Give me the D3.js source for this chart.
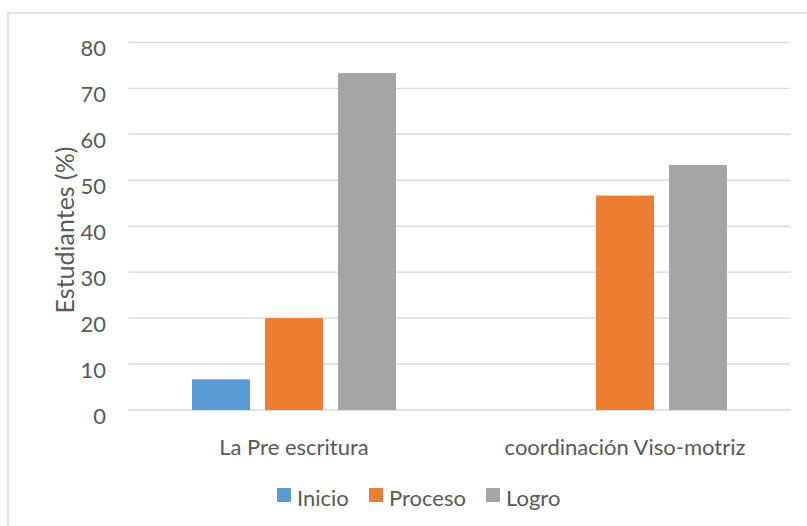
<!DOCTYPE html>
<html><head><meta charset="utf-8">
<script src="https://cdn.jsdelivr.net/npm/d3@7"></script>
<style>body{margin:0;background:#fff}svg{display:block;font-family:Lato,"Open Sans",sans-serif}</style>
</head><body>
<svg id="c" width="807" height="526"></svg>
<script>
const categories = ["La Pre escritura", "coordinación Viso-motriz"];
const seriesNames = ["Inicio", "Proceso", "Logro"];
const inicio = [6.67, 0];
const proceso = [20, 46.67];
const logro = [73.33, 53.33];
const yTicks = [0, 10, 20, 30, 40, 50, 60, 70, 80];
const colors = ["#5b9bd5", "#ed7d31", "#a5a5a5"];
const textColor = "#595959";

const svg = d3.select("#c");
svg.append("rect").attr("x", 8).attr("y", 13).attr("width", 820).attr("height", 540)
  .attr("fill", "none").attr("stroke", "#d9d9d9").attr("stroke-width", 1.5);

const m = {l: 128.5, r: 790.5, t: 42.4, b: 410};
const x = d3.scaleBand().domain(categories).range([m.l, m.r]).paddingInner(0).paddingOuter(0);
const y = d3.scaleLinear().domain([0, 80]).range([m.b, m.t]);
const xs = d3.scaleBand().domain(seriesNames).range([0, x.bandwidth()]).paddingInner(0.205).paddingOuter(0.87);

svg.append("g").selectAll("line").data(yTicks).join("line")
  .attr("x1", m.l).attr("x2", m.r).attr("y1", d => y(d)).attr("y2", d => y(d))
  .attr("stroke", "#d9d9d9").attr("stroke-width", 1.4);

const yAxis = d3.axisLeft(y).tickValues(yTicks).tickSize(0).tickPadding(0);
const ga = svg.append("g").attr("transform", `translate(106,6)`).call(yAxis);
ga.select(".domain").remove();
ga.selectAll("text").attr("fill", textColor).style("font-size", "22px").style("font-family", "Lato,sans-serif");

const series = [inicio, proceso, logro];
const data = [];
categories.forEach((c, i) => seriesNames.forEach((s, j) => data.push({c, s, v: series[j][i], col: colors[j]})));
svg.append("g").selectAll("rect").data(data.filter(d => d.v > 0)).join("rect")
  .attr("x", d => x(d.c) + xs(d.s)).attr("width", xs.bandwidth())
  .attr("y", d => y(d.v)).attr("height", d => y(0) - y(d.v)).attr("fill", d => d.col);

const xAxis = d3.axisBottom(x).tickSize(0).tickPadding(0);
const gx = svg.append("g").attr("transform", `translate(0,${m.b})`).call(xAxis);
gx.select(".domain").remove();
gx.selectAll("text").attr("dy", null).attr("y", 45).attr("fill", textColor)
  .style("font-size", "22px").style("font-family", "Lato,sans-serif");

svg.append("text").attr("transform", "translate(74,230) rotate(-90)").attr("text-anchor", "middle")
  .attr("fill", textColor).style("font-size", "25px").text("Estudiantes (%)");

const legX = [277, 369, 486];
const lg = svg.append("g").selectAll("g").data(seriesNames).join("g")
  .attr("transform", (d, i) => `translate(${legX[i]},488)`);
lg.append("rect").attr("width", 14).attr("height", 14).attr("fill", (d, i) => colors[i]);
lg.append("text").attr("x", 20).attr("y", 18).attr("fill", textColor).style("font-size", "22px").text(d => d);
</script>
</body></html>
